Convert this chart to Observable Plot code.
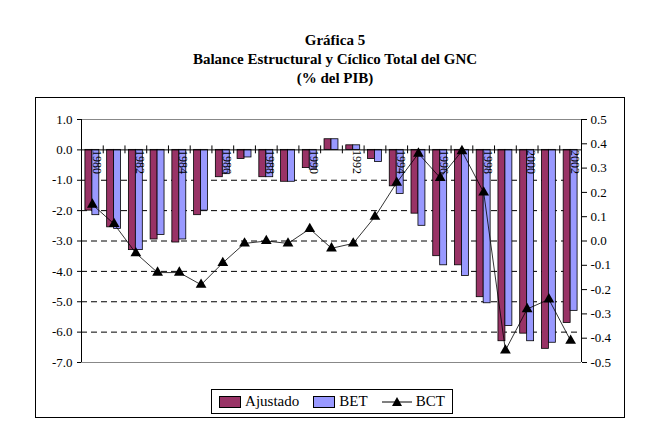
<!DOCTYPE html>
<html><head><meta charset="utf-8">
<script src="https://cdn.jsdelivr.net/npm/d3@7"></script>
<script src="https://cdn.jsdelivr.net/npm/@observablehq/plot@0.6"></script>
<style>
body{margin:0;background:#fff;font-family:"Liberation Serif",serif;}
#title{position:absolute;left:0;top:31px;width:670px;text-align:center;font-weight:bold;font-size:15px;line-height:19px;}
#box{position:absolute;left:35px;top:97px;width:588px;height:319px;border:1px solid #000;}
#chart{position:absolute;left:0;top:0;}
#legend{position:absolute;left:175px;top:291px;width:240px;height:23px;border:1px solid #000;display:flex;align-items:center;justify-content:space-around;font-size:15px;}
#legend span{display:flex;align-items:center;gap:4px;}
</style></head><body>
<div id="title">Gráfica 5<br>Balance Estructural y Cíclico Total del GNC<br>(% del PIB)</div>
<div id="box"><div id="chart"></div>
<div id="legend">
<span><svg width="22" height="12"><rect x="0.5" y="0.5" width="21" height="11" fill="#993366" stroke="#000"/></svg>Ajustado</span>
<span><svg width="22" height="12"><rect x="0.5" y="0.5" width="21" height="11" fill="#9999ff" stroke="#000"/></svg>BET</span>
<span><svg width="30" height="12"><line x1="0" y1="6" x2="30" y2="6" stroke="#000"/><path d="M15,1 L20,10 L10,10Z" fill="#000"/></svg>BCT</span>
</div></div>
<script>
const years = d3.range(1980, 2003);
const ajustado = [-2.0,-2.55,-3.3,-2.95,-3.05,-2.15,-0.9,-0.3,-0.9,-1.05,-0.6,0.35,0.15,-0.3,-1.2,-2.1,-3.5,-3.8,-4.85,-6.3,-6.05,-6.55,-5.7];
const bet = [-2.15,-2.6,-3.3,-2.8,-2.95,-2.0,-0.8,-0.25,-0.9,-1.05,-0.65,0.35,0.15,-0.4,-1.45,-2.5,-3.8,-4.15,-5.05,-5.8,-6.3,-6.35,-5.3];
const bct = [0.15,0.07,-0.05,-0.13,-0.13,-0.18,-0.09,-0.01,0.0,-0.01,0.05,-0.03,-0.01,0.10,0.24,0.36,0.26,0.37,0.20,-0.45,-0.28,-0.24,-0.41];
const leftTicks = [1,0,-1,-2,-3,-4,-5,-6,-7];
const rightTicks = [0.5,0.4,0.3,0.2,0.1,0,-0.1,-0.2,-0.3,-0.4,-0.5];
const toLeft = b => -3 + 8*b;
const data = years.map((y,i)=>({year:y, a:ajustado[i], b:bet[i], c:toLeft(bct[i])}));
const w = 0.32;
const chart = Plot.plot({
  width:588, height:283, marginLeft:45, marginRight:43, marginTop:21, marginBottom:19,
  x:{type:"linear", domain:[1979.5,2002.5], axis:null},
  y:{type:"linear", domain:[-7,1], axis:null},
  style:{fontFamily:"Liberation Serif, serif", fontSize:"13px", color:"#000"},
  marks:[
    Plot.ruleY([1,-7], {stroke:"#888"}),
    Plot.ruleY([-1,-2,-3,-4,-5,-6], {stroke:"#000", strokeDasharray:"6,4"}),
    Plot.rectY(data, {x1:d=>d.year-w, x2:d=>d.year, y1:0, y2:"a", fill:"#993366", stroke:"#000", strokeWidth:0.8}),
    Plot.rectY(data, {x1:d=>d.year, x2:d=>d.year+w, y1:0, y2:"b", fill:"#9999ff", stroke:"#000", strokeWidth:0.8}),
    Plot.ruleY([0], {stroke:"#000"}),
    Plot.ruleX(d3.range(1979.5,2003,1), {y1:-0.13, y2:0.13, stroke:"#000"}),
    Plot.ruleX([1979.5], {y1:-7, y2:1, stroke:"#000"}),
    Plot.ruleX([2002.5], {y1:-7, y2:1, stroke:"#000"}),
    Plot.axisY({ticks:leftTicks, tickFormat:d=>d.toFixed(1), tickSize:4, label:null}),
    Plot.axisY({anchor:"right", ticks:rightTicks.map(toLeft), tickFormat:v=>((v+3)/8).toFixed(1).replace("-0.0","0.0"), tickSize:5, label:null}),
    Plot.text(data.filter(d=>d.year%2===0), {x:"year", y:0, text:d=>String(d.year), rotate:90, textAnchor:"start", dx:4, fontSize:12}),
    Plot.line(data, {x:"year", y:"c", stroke:"#000", strokeWidth:0.8}),
    Plot.dot(data, {x:"year", y:"c", symbol:"triangle", r:4, fill:"#000"})
  ]
});
document.getElementById("chart").appendChild(chart);
</script></body></html>
